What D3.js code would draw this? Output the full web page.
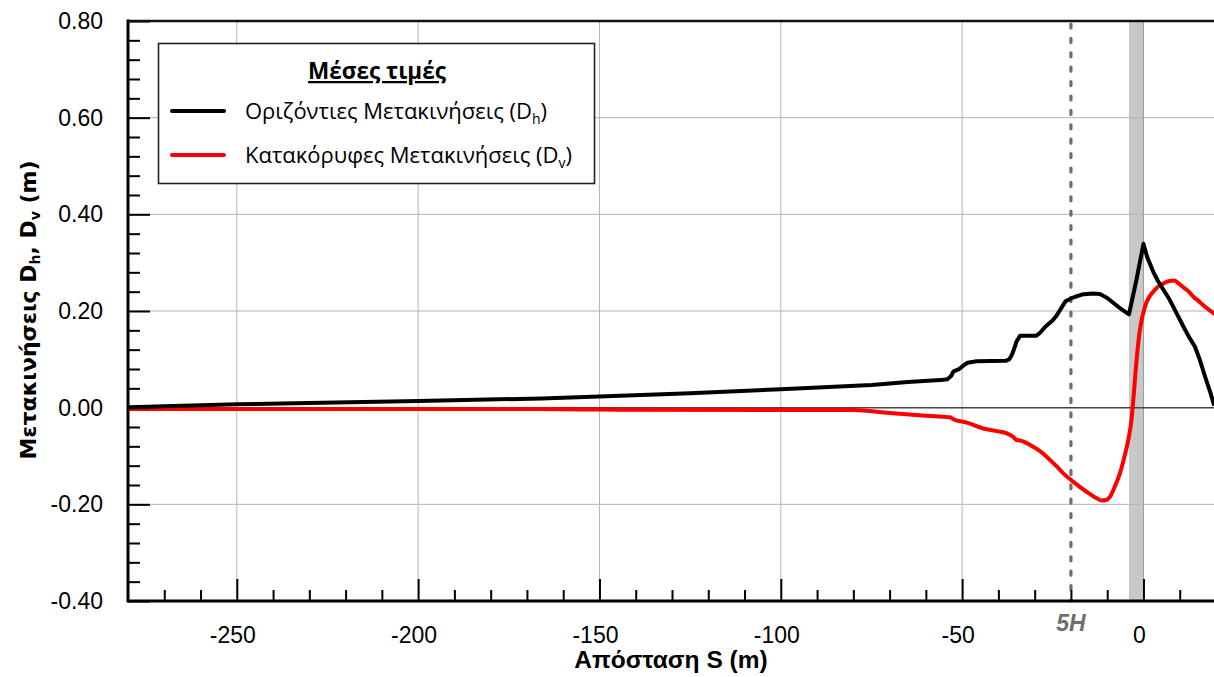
<!DOCTYPE html>
<html>
<head>
<meta charset="utf-8">
<script src="https://cdn.jsdelivr.net/npm/d3@7/dist/d3.min.js"></script>
<style>
  html, body { margin: 0; padding: 0; background: #fff; }
  svg { display: block; }
</style>
</head>
<body>
<svg id="chart" width="1214" height="677"></svg>
<script>
// Mean horizontal displacement Dh (m) along distance S (m)
const dhS = [-280, -250, -200, -166, -150, -125, -100, -75, -65, -56, -54, -53, -52.4, -51, -49.5, -48.5, -46, -38, -37, -36.3, -35.5, -35, -34, -29.5, -28.5, -27, -25, -24, -23, -21.5, -20, -19, -17, -14, -12, -10, -8, -6.5, -4, -2, 0, 1, 2.7, 4, 5.5, 7, 8.2, 9.5, 11, 12.5, 14.2, 15.5, 17, 18.5, 19.5];
const dhValues = [0.001, 0.007, 0.014, 0.019, 0.023, 0.030, 0.038, 0.047, 0.053, 0.057, 0.059, 0.066, 0.075, 0.079, 0.088, 0.093, 0.096, 0.097, 0.100, 0.109, 0.125, 0.137, 0.149, 0.149, 0.155, 0.168, 0.181, 0.190, 0.202, 0.220, 0.226, 0.229, 0.234, 0.236, 0.235, 0.227, 0.215, 0.206, 0.193, 0.262, 0.339, 0.312, 0.281, 0.262, 0.244, 0.226, 0.209, 0.190, 0.168, 0.147, 0.126, 0.100, 0.064, 0.030, 0.004];

// Mean vertical displacement Dv (m) along distance S (m)
const dvS = [-280, -250, -200, -166, -150, -100, -80, -70, -61, -55, -53.3, -52.4, -48.7, -44.2, -40, -37.7, -36, -35, -34, -30.4, -28, -25.8, -24, -22.1, -19.4, -15.7, -13, -11.5, -10.3, -9.2, -8, -6.5, -5.2, -4.2, -3.3, -2.8, -1.9, -1, 0.4, 1.5, 2.7, 4, 5.5, 7, 8.5, 10, 11, 12.5, 13.7, 15, 16.5, 18, 20];
const dvValues = [-0.003, -0.003, -0.003, -0.003, -0.004, -0.005, -0.005, -0.011, -0.016, -0.019, -0.020, -0.024, -0.031, -0.043, -0.049, -0.053, -0.060, -0.067, -0.068, -0.081, -0.093, -0.108, -0.121, -0.136, -0.153, -0.174, -0.187, -0.192, -0.191, -0.184, -0.165, -0.136, -0.100, -0.067, -0.025, 0.016, 0.099, 0.160, 0.209, 0.228, 0.240, 0.250, 0.257, 0.262, 0.263, 0.255, 0.249, 0.240, 0.230, 0.222, 0.212, 0.203, 0.192];

const xMajorTicks = [-250, -200, -150, -100, -50, 0];
const xMinorTicks = d3.range(-270, 21, 10).filter(v => v % 50 !== 0);
const yMajorTicks = [-0.4, -0.2, 0, 0.2, 0.4, 0.6, 0.8];
const yMinorTicks = d3.range(-0.36, 0.8, 0.04).map(v => +v.toFixed(2)).filter(v => Math.abs(Math.round(v * 5) - v * 5) > 1e-6);

const fiveH = -20;          // 5H reference distance
const wallBand = [-4, 0];   // shaded band next to S = 0

const legendTitle = "Μέσες τιμές";
const seriesNames = [["Οριζόντιες Μετακινήσεις (D", "h", ")"], ["Κατακόρυφες Μετακινήσεις (D", "v", ")"]];
const seriesColors = ["#000000", "#ff0000"];

const svg = d3.select("#chart");
const plotLeft = 128, plotRight = 1216, plotTop = 21, plotBottom = 601, viewRight = 1214;

const x = d3.scaleLinear().domain([-280, 20]).range([plotLeft, plotRight]);
const y = d3.scaleLinear().domain([-0.4, 0.8]).range([plotBottom, plotTop]);

const tickFont = "'Liberation Sans', Arial, sans-serif";
// plain hyphen for negative numbers
const hyphen = f => v => f(v).replace("\u2212", "-");

// shaded band
svg.append("rect")
  .attr("x", x(wallBand[0])).attr("y", plotTop)
  .attr("width", x(wallBand[1]) - x(wallBand[0])).attr("height", plotBottom - plotTop)
  .attr("fill", "#c8c8c8");

// gridlines
svg.append("g").selectAll("line").data(xMajorTicks).join("line")
  .attr("x1", d => x(d)).attr("x2", d => x(d))
  .attr("y1", plotTop).attr("y2", plotBottom)
  .attr("stroke", d => d === 0 ? "#9a9a9a" : "#b4b4b4").attr("stroke-width", 1);
svg.append("g").selectAll("line").data(yMajorTicks.filter(d => d !== 0)).join("line")
  .attr("x1", plotLeft).attr("x2", viewRight)
  .attr("y1", d => y(d)).attr("y2", d => y(d))
  .attr("stroke", "#b4b4b4").attr("stroke-width", 1);
svg.append("line")
  .attr("x1", plotLeft).attr("x2", viewRight).attr("y1", y(0)).attr("y2", y(0))
  .attr("stroke", "#444").attr("stroke-width", 1.5);

// 5H marker
svg.append("line")
  .attr("x1", x(fiveH)).attr("x2", x(fiveH)).attr("y1", plotTop + 3).attr("y2", plotBottom)
  .attr("stroke", "#6e6e6e").attr("stroke-width", 3.2)
  .attr("stroke-dasharray", "4 10.4").attr("stroke-linecap", "round");
svg.append("text")
  .attr("x", x(fiveH)).attr("y", 631)
  .attr("text-anchor", "middle")
  .attr("font-family", tickFont).attr("font-size", 23)
  .attr("font-weight", "bold").attr("font-style", "italic")
  .attr("fill", "#6e6e6e").text("5H");

// series
const dh = dhS.map((s, i) => [s, dhValues[i]]);
const dv = dvS.map((s, i) => [s, dvValues[i]]);
svg.append("clipPath").attr("id", "plotclip").append("rect")
  .attr("x", plotLeft).attr("y", plotTop - 5).attr("width", viewRight - plotLeft).attr("height", plotBottom - plotTop + 10);

svg.append("path").datum(dv)
  .attr("clip-path", "url(#plotclip)")
  .attr("d", d3.line().x(d => x(d[0])).y(d => y(d[1])).curve(d3.curveMonotoneX))
  .attr("fill", "none").attr("stroke", seriesColors[1]).attr("stroke-width", 4)
  .attr("stroke-linejoin", "round");
svg.append("path").datum(dh)
  .attr("clip-path", "url(#plotclip)")
  .attr("d", d3.line().x(d => x(d[0])).y(d => y(d[1])))
  .attr("fill", "none").attr("stroke", seriesColors[0]).attr("stroke-width", 4)
  .attr("stroke-linejoin", "round");

// axes
svg.append("g").attr("transform", `translate(${plotLeft},0)`)
  .call(d3.axisLeft(y).tickValues(yMajorTicks).tickFormat(hyphen(d3.format(".2f"))).tickSizeInner(-22).tickSizeOuter(0).tickPadding(25));
svg.append("g").attr("transform", `translate(${plotLeft},0)`)
  .call(d3.axisLeft(y).tickValues(yMinorTicks).tickFormat("").tickSizeInner(-12).tickSizeOuter(0));
const xAxis = svg.append("g").attr("transform", `translate(0,${plotBottom})`)
  .call(d3.axisBottom(x).tickValues(xMajorTicks).tickFormat(hyphen(d3.format("d"))).tickSizeInner(-22).tickSizeOuter(0));
svg.append("g").attr("transform", `translate(0,${plotBottom})`)
  .call(d3.axisBottom(x).tickValues(xMinorTicks).tickFormat("").tickSizeInner(-11).tickSizeOuter(0));

svg.selectAll(".domain").remove();
svg.selectAll(".tick line").attr("stroke", "#000").attr("stroke-width", 2);
svg.selectAll(".tick text").attr("font-family", tickFont).attr("font-size", 23).attr("fill", "#000");
xAxis.selectAll(".tick text").attr("dy", null).attr("y", 42).attr("x", -4.5);

// frame lines
svg.append("line").attr("x1", plotLeft).attr("x2", plotLeft).attr("y1", plotTop - 1.5).attr("y2", plotBottom + 1.5)
  .attr("stroke", "#000").attr("stroke-width", 3);
svg.append("line").attr("x1", plotLeft).attr("x2", viewRight).attr("y1", plotBottom).attr("y2", plotBottom)
  .attr("stroke", "#000").attr("stroke-width", 3);
svg.append("line").attr("x1", plotLeft).attr("x2", viewRight).attr("y1", plotTop).attr("y2", plotTop)
  .attr("stroke", "#111").attr("stroke-width", 2.5);

// axis titles
svg.append("text")
  .attr("x", 671).attr("y", 668)
  .attr("text-anchor", "middle")
  .attr("font-family", tickFont).attr("font-size", 24.5).attr("font-weight", "bold")
  .text("Απόσταση S (m)");

const yTitle = svg.append("text")
  .attr("transform", "translate(36,310) rotate(-90)")
  .attr("text-anchor", "middle")
  .attr("font-family", "'DejaVu Sans', sans-serif").attr("font-size", 22).attr("font-weight", "bold");
yTitle.append("tspan").text("Μετακινήσεις D");
yTitle.append("tspan").attr("font-size", 14).attr("dy", 4).text("h");
yTitle.append("tspan").attr("dy", -4).text(", D");
yTitle.append("tspan").attr("font-size", 14).attr("dy", 4).text("v");
yTitle.append("tspan").attr("dy", -4).text(" (m)");

// legend
const legendFont = "'Open Sans', sans-serif";
const lg = svg.append("g");
lg.append("rect").attr("x", 158.5).attr("y", 43.5).attr("width", 436).attr("height", 140)
  .attr("fill", "#fff").attr("stroke", "#222").attr("stroke-width", 1.6);
lg.append("text").attr("x", 377).attr("y", 79)
  .attr("text-anchor", "middle")
  .attr("font-family", legendFont).attr("font-size", 22.5).attr("font-weight", "bold")
  .attr("text-decoration", "underline")
  .text(legendTitle);
const rowY = [111, 155];
seriesNames.forEach((parts, i) => {
  lg.append("line").attr("x1", 172).attr("x2", 224).attr("y1", rowY[i]).attr("y2", rowY[i])
    .attr("stroke", seriesColors[i]).attr("stroke-width", 4).attr("stroke-linecap", "round");
  const t = lg.append("text").attr("x", 245).attr("y", rowY[i] + 7.5)
    .attr("font-family", legendFont).attr("font-size", 22).attr("fill", "#000");
  t.append("tspan").text(parts[0]);
  t.append("tspan").attr("font-size", 14).attr("dy", 5).text(parts[1]);
  t.append("tspan").attr("dy", -5).text(parts[2]);
});
</script>
</body>
</html>
